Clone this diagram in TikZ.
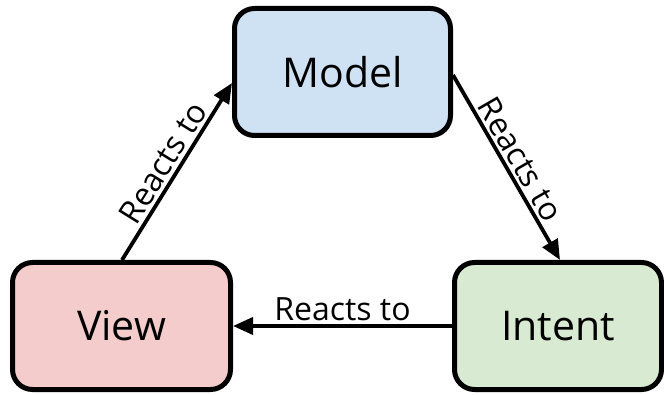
\documentclass[tikz,border=0pt]{standalone}
\usepackage{fontspec}
\setmainfont{Open Sans}
\usetikzlibrary{arrows.meta,calc}
\definecolor{mblue}{HTML}{CFE2F3}
\definecolor{vred}{HTML}{F4CCCC}
\definecolor{igreen}{HTML}{D9EAD3}
\tikzset{
  box/.style={draw=black, line width=5pt, rounded corners=20pt, inner sep=0pt,
    font=\fontsize{41}{48}\selectfont},
  conn/.style={line width=3.8pt, -{Triangle[length=20pt,width=17pt]}},
  lbl/.style={font=\fontsize{32}{38}\selectfont, inner sep=3pt}
}
\begin{document}
\begin{tikzpicture}[x=1pt,y=-1pt]
\useasboundingbox (0,0) rectangle (664,395);
\node[box, fill=mblue, minimum width=216pt, minimum height=127pt] (model) at (342.5,72) {Model};
\node[box, fill=vred, minimum width=218pt, minimum height=127pt] (view) at (121.5,326) {View};
\node[box, fill=igreen, minimum width=207pt, minimum height=127pt] (intent) at (558,326) {Intent};
\coordinate (v1) at ($(view.north west)+(112,0)$);
\coordinate (m1) at ($(model.north west)+(0,77)$);
\coordinate (m2) at ($(model.north east)+(0,69)$);
\coordinate (i1) at ($(intent.north west)+(108,0)$);
\draw[conn] (v1) -- node[lbl, midway, sloped, above] (l1) {Reacts to} (m1);
\draw[conn] (m2) -- node[lbl, midway, sloped, above] (l2) {Reacts to} (i1);
\draw[conn] (intent.west) -- node[lbl, midway, above] (l3) {Reacts to} (view.east);
\end{tikzpicture}
\end{document}
